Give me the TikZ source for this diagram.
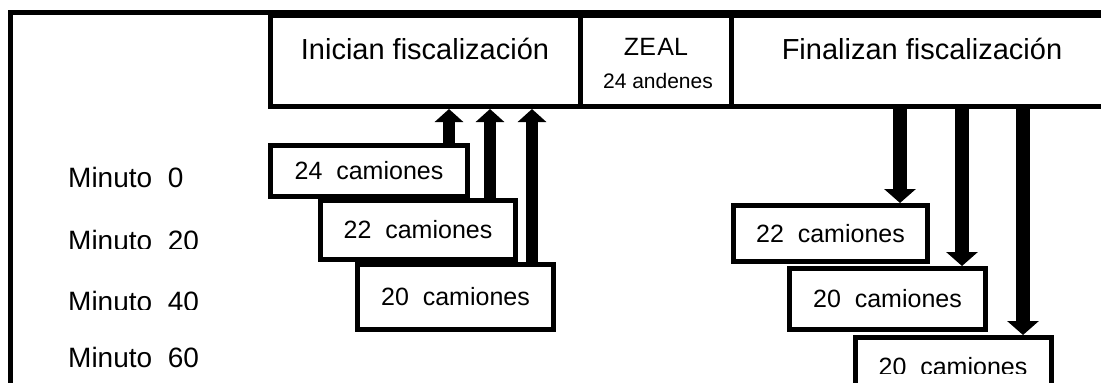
\documentclass[tikz,border=0pt]{standalone}
\usepackage{fontspec}
\usepackage{graphicx}
\setmainfont{Liberation Sans}
\usetikzlibrary{arrows.meta}
\tikzset{
  frameline/.style={line width=5pt, line cap=rect},
  topbox/.style={draw, line width=5pt, fill=white, rectangle, anchor=north west, inner sep=0pt},
  cambox/.style={draw, line width=5pt, fill=white, rectangle, anchor=north west, inner sep=0pt,
    minimum width=196pt, font=\fontsize{25}{30}\selectfont},
  camtext/.style={inner sep=0pt, font=\fontsize{25}{30}\selectfont},
  bigtext/.style={anchor=base, inner sep=0pt, font=\fontsize{29}{34}\selectfont},
  mintext/.style={anchor=base west, inner sep=0pt, font=\fontsize{25}{30}\selectfont},
  uparrow/.style={line width=12.5pt, -{Triangle[width=28pt,length=13pt]}},
  downarrow/.style={line width=14pt, -{Triangle[width=31pt,length=14pt]}}
}
\newcommand{\minlab}[1]{\scalebox{1.12}{Minuto~#1}}
\begin{document}
\begin{tikzpicture}[x=1pt,y=-1pt]
\useasboundingbox (0,0) rectangle (1101,383);
\clip (0,0) rectangle (1101,383);
\fill[white] (0,0) rectangle (1101,383);
% outer frame
\coordinate (fa) at (10.5,420);
\coordinate (fb) at (10.5,12.5);
\coordinate (fc) at (1140,12.5);
\draw[frameline] (fa) -- (fb) -- (fc);
% top boxes
\node[topbox, minimum width=310pt, minimum height=91pt] (ini) at (268,13) {};
\node[topbox, minimum width=151pt, minimum height=91pt] (zeal) at (578,13) {};
\node[topbox, minimum width=400pt, minimum height=91pt] (fin) at (729,13) {};
\node[bigtext] (tini) at (425,59) {Inician fiscalización};
\node[anchor=base, inner sep=0pt, font=\fontsize{25}{30}\selectfont] (tzeal) at (656,55) {ZE\kern1.5pt AL};
\node[anchor=base, inner sep=0pt, font=\fontsize{21}{25}\selectfont] (tand) at (658,88) {24 andenes};
\node[bigtext] (tfin) at (922,59) {Finalizan fiscalización};
% minute labels
\node[mintext] (m0) at (68,187) {\minlab{\ 0}};
\begin{scope}
\clip (20,200) rectangle (260,248.5);
\node[mintext] (m20) at (68,250) {\minlab{\ 20}};
\end{scope}
\begin{scope}
\clip (20,260) rectangle (260,309.5);
\node[mintext] (m40) at (68,311) {\minlab{\ 40}};
\end{scope}
\node[mintext] (m60) at (68,367) {\minlab{\ 60}};
% left boxes
\node[cambox, minimum width=197pt, minimum height=51pt] (b24) at (268,143) {24~~camiones};
\node[cambox, minimum width=195pt, minimum height=59pt] (b22) at (318,198) {22~~camiones};
\node[cambox, minimum width=196pt, minimum height=65pt] (b20) at (355,262) {20~~camiones};
% right boxes
\node[cambox, minimum width=194pt, minimum height=56pt] (r22) at (731,203) {22~~camiones};
\node[cambox, minimum width=196pt, minimum height=61pt] (r20) at (787,266) {20~~camiones};
\node[cambox, minimum width=196pt, minimum height=66pt] (r20b) at (853,335) {};
\begin{scope}
\clip (860,340) rectangle (1050,373.5);
\node[camtext, anchor=base] (t20b) at (953,375) {20~~camiones};
\end{scope}
% arrow columns
\coordinate (x1) at (449,0);
\coordinate (x2) at (490,0);
\coordinate (x3) at (532,0);
\coordinate (y1) at (900,0);
\coordinate (y2) at (962,0);
\coordinate (y3) at (1023,0);
\draw[uparrow] (b24.north -| x1) -- (ini.south -| x1);
\draw[uparrow] (b22.north -| x2) -- (ini.south -| x2);
\draw[uparrow] (b20.north -| x3) -- (ini.south -| x3);
\draw[downarrow] (fin.south -| y1) -- (r22.north -| y1);
\draw[downarrow] (fin.south -| y2) -- (r20.north -| y2);
\draw[downarrow] (fin.south -| y3) -- (r20b.north -| y3);
\end{tikzpicture}
\end{document}
